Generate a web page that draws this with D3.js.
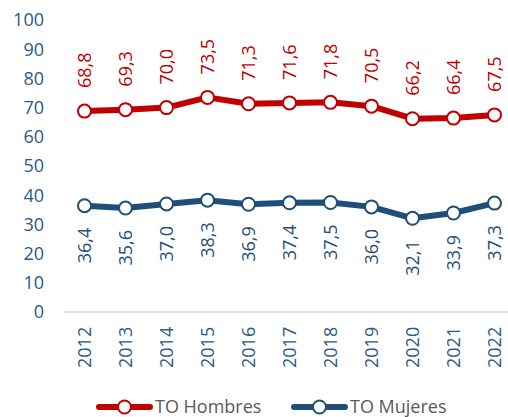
<!DOCTYPE html>
<html>
<head>
<meta charset="utf-8">
<script src="https://cdn.jsdelivr.net/npm/d3@7"></script>
<style>
  body { margin: 0; background: #fff; }
  text { font-family: "Open Sans", sans-serif; }
</style>
</head>
<body>
<div id="chart"></div>
<script>
var years = ["2012", "2013", "2014", "2015", "2016", "2017", "2018", "2019", "2020", "2021", "2022"];
var hombres = [68.8, 69.3, 70.0, 73.5, 71.3, 71.6, 71.8, 70.5, 66.2, 66.4, 67.5];
var mujeres = [36.4, 35.6, 37.0, 38.3, 36.9, 37.4, 37.5, 36.0, 32.1, 33.9, 37.3];
var yTicks = [0, 10, 20, 30, 40, 50, 60, 70, 80, 90, 100];
var seriesNames = ["TO Hombres", "TO Mujeres"];

var width = 508;
var height = 417;
var red = "#C00000";
var blue = "#1F4E79";
var axisBlue = "#2B5A86";

var svg = d3.select("#chart")
    .append("svg")
    .attr("width", width)
    .attr("height", height);

var x = d3.scaleBand()
    .domain(years)
    .range([64, 64 + 41 * years.length]);

var y = d3.scaleLinear()
    .domain([0, 100])
    .range([312, 20]);

var fmt = function (v) { return v.toFixed(1).replace(".", ","); };
var cx = function (d, i) { return x(years[i]) + x.bandwidth() / 2; };

// y axis labels (no line)
svg.append("g")
    .selectAll("text")
    .data(yTicks)
    .join("text")
    .attr("x", 44)
    .attr("y", d => y(d))
    .attr("dy", "0.35em")
    .attr("text-anchor", "end")
    .attr("font-size", 18)
    .attr("fill", axisBlue)
    .text(d => d);

// x axis line
svg.append("line")
    .attr("x1", x.range()[0])
    .attr("x2", x.range()[1])
    .attr("y1", y(0))
    .attr("y2", y(0))
    .attr("stroke", "#D9D9D9")
    .attr("stroke-width", 1.5);

// year labels rotated
svg.append("g")
    .selectAll("text")
    .data(years)
    .join("text")
    .attr("transform", d => "translate(" + (x(d) + x.bandwidth() / 2) + ",368) rotate(-90)")
    .attr("dy", "0.35em")
    .attr("text-anchor", "start")
    .attr("font-size", 18)
    .attr("fill", axisBlue)
    .text(d => d);

var line = d3.line()
    .x(cx)
    .y(d => y(d));

function drawSeries(values, color, above) {
    svg.append("path")
        .datum(values)
        .attr("d", line)
        .attr("fill", "none")
        .attr("stroke", color)
        .attr("stroke-width", 6)
        .attr("stroke-linejoin", "round");

    svg.append("g")
        .selectAll("circle")
        .data(values)
        .join("circle")
        .attr("cx", cx)
        .attr("cy", d => y(d))
        .attr("r", 6.5)
        .attr("fill", "#fff")
        .attr("stroke", color)
        .attr("stroke-width", 2);

    svg.append("g")
        .selectAll("text")
        .data(values)
        .join("text")
        .attr("transform", (d, i) => "translate(" + cx(d, i) + "," + (above ? y(d) - 23 : y(d) + 22) + ") rotate(-90)")
        .attr("dy", "0.35em")
        .attr("text-anchor", above ? "start" : "end")
        .attr("font-size", 18)
        .attr("fill", color)
        .text(fmt);
}

drawSeries(hombres, red, true);
drawSeries(mujeres, blue, false);

// legend
var legendItems = [
    { name: seriesNames[0], color: red, x0: 97 },
    { name: seriesNames[1], color: blue, x0: 292 }
];
var lg = svg.append("g").selectAll("g")
    .data(legendItems)
    .join("g")
    .attr("transform", d => "translate(" + d.x0 + ",407)");
lg.append("line")
    .attr("x1", 2).attr("x2", 53)
    .attr("stroke", d => d.color)
    .attr("stroke-width", 6)
    .attr("stroke-linecap", "round");
lg.append("circle")
    .attr("cx", 27.5)
    .attr("r", 6.5)
    .attr("fill", "#fff")
    .attr("stroke", d => d.color)
    .attr("stroke-width", 2);
lg.append("text")
    .attr("x", 58)
    .attr("dy", "0.35em")
    .attr("font-size", 18)
    .attr("fill", "#595959")
    .text(d => d.name);
</script>
</body>
</html>
